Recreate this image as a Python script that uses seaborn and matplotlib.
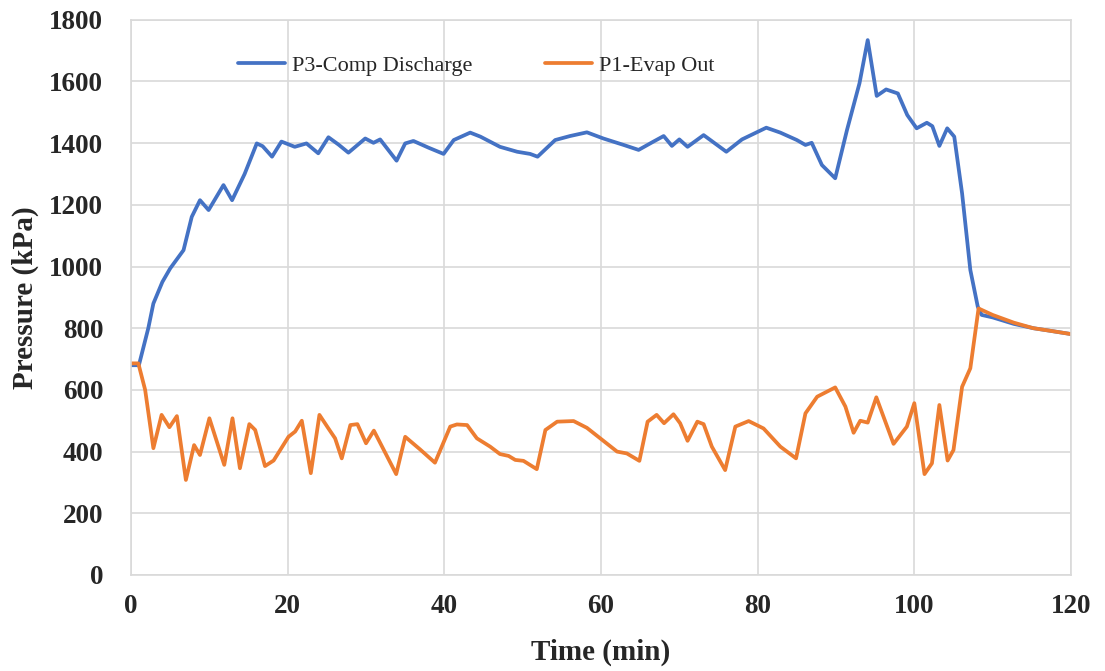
import matplotlib
matplotlib.use("Agg")
import matplotlib.pyplot as plt
import seaborn as sns
import pandas as pd

# P3 - compressor discharge pressure (kPa) vs time (min)
p3_time = [0, 1, 2.2, 2.85, 4, 5, 6.7, 7.75, 8.8, 9.9, 11.8, 12.9, 14.5, 16.05, 16.8,
           18, 19.2, 20.9, 22.4, 23.9, 25.2, 26.5, 27.75, 29.9, 30.95, 31.8, 33.9, 35,
           36.05, 38, 39.9, 41.2, 43.3, 44.6, 47.1, 49.3, 50.95, 51.9, 54.15, 56.05,
           58.2, 60.3, 62.9, 64.8, 66.7, 68, 69.05, 70, 71.05, 73.1, 76, 78, 81.1, 82.9,
           85, 86.1, 86.9, 88.2, 89.9, 91.4, 93, 94.05, 95.2, 96.4, 97.9, 99.1, 100.3,
           101.6, 102.3, 103.2, 104.2, 105.1, 106.1, 107.15, 108.1, 108.6, 110, 112.7,
           115.2, 117, 120]
p3_pressure = [680, 680, 800, 880, 950, 994, 1053, 1161, 1215, 1183, 1264, 1215, 1300, 1399,
               1390, 1356, 1405, 1388, 1399, 1367, 1419, 1395, 1369, 1415, 1401, 1412, 1343,
               1399, 1407, 1385, 1365, 1410, 1434, 1421, 1388, 1372, 1365, 1356, 1410, 1423,
               1435, 1415, 1394, 1378, 1405, 1423, 1391, 1412, 1388, 1426, 1372, 1412, 1450,
               1434, 1410, 1394, 1401, 1329, 1286, 1442, 1594, 1734, 1553, 1574, 1561, 1491,
               1448, 1466, 1455, 1391, 1448, 1421, 1237, 989, 870, 843, 835, 814, 800, 793, 781]

# P1 - evaporator outlet pressure (kPa) vs time (min)
p1_time = [0, 0.93, 1.8, 2.85, 3.9, 4.9, 5.85, 7.0, 8.05, 8.8, 10, 11.9, 12.95, 13.9, 15.1,
           15.85, 17.1, 18.2, 20.1, 20.95, 21.8, 22.95, 24.05, 25.2, 26.05, 26.9, 28, 28.9,
           30, 31, 33.85, 35, 36.9, 38.8, 40.75, 41.6, 42.9, 44.15, 45.85, 47.1, 48.2,
           49.05, 50.1, 51.8, 52.9, 54.4, 56.5, 58.2, 59.9, 62.05, 63.3, 64.9, 65.95, 67.1,
           68.05, 69.25, 70.1, 71.05, 72.3, 73.1, 74.15, 75.85, 77.15, 78.85, 80.75, 82.9,
           84.9, 86.1, 87.6, 89.9, 91.2, 92.25, 93.1, 94.05, 95.15, 97.35, 99.05, 100,
           101.3, 102.25, 103.2, 104.25, 105, 106.1, 107.15, 108.2, 110, 112.7, 115.2, 117, 120]
p1_pressure = [686, 686, 600, 411, 519, 479, 515, 308, 421, 389, 508, 357, 508, 346, 489, 470,
               353, 371, 448, 465, 500, 330, 519, 475, 443, 378, 486, 489, 427, 468, 327, 448,
               407, 364, 481, 488, 486, 443, 416, 392, 386, 373, 370, 343, 470, 497, 499, 477,
               443, 400, 394, 370, 497, 519, 492, 521, 492, 435, 497, 489, 416, 340, 481, 499,
               475, 416, 378, 524, 578, 608, 546, 461, 500, 494, 576, 425, 481, 557, 327, 362,
               551, 371, 405, 610, 670, 864, 843, 818, 800, 793, 781]

x_ticks = [0, 20, 40, 60, 80, 100, 120]
y_ticks = [0, 200, 400, 600, 800, 1000, 1200, 1400, 1600, 1800]

df = pd.concat([
    pd.DataFrame({"time": p3_time, "pressure": p3_pressure, "series": "P3-Comp Discharge"}),
    pd.DataFrame({"time": p1_time, "pressure": p1_pressure, "series": "P1-Evap Out"}),
])

sns.set_theme(style="white")
plt.rcParams["font.family"] = ["Liberation Serif", "DejaVu Serif"]

fig = plt.figure(figsize=(11.05, 6.71), dpi=100)
ax = fig.add_axes([0.1186, 0.1431, 0.8506, 0.8275])

sns.lineplot(data=df, x="time", y="pressure", hue="series", sort=False,
             palette={"P3-Comp Discharge": "#4472C4", "P1-Evap Out": "#ED7D31"},
             linewidth=2.7, solid_joinstyle="round", solid_capstyle="round", ax=ax)

ax.set_xlim(0, 120)
ax.set_ylim(0, 1800)
ax.set_xticks(x_ticks)
ax.set_yticks(y_ticks)
ax.grid(True, color="#D9D9D9", linewidth=1.2)
ax.set_axisbelow(True)
for s in ax.spines.values():
    s.set_color("#D9D9D9")
    s.set_linewidth(1.2)

ax.tick_params(axis="both", length=0, labelsize=19.5)
ax.tick_params(axis="y", pad=20)
ax.tick_params(axis="x", pad=14)
for lab in ax.get_xticklabels() + ax.get_yticklabels():
    lab.set_fontweight("bold")

ax.set_xlabel("Time (min)", fontsize=21, fontweight="bold", labelpad=14)
ax.set_ylabel("Pressure (kPa)", fontsize=21, fontweight="bold", labelpad=7)

ax.legend(loc="center left", bbox_to_anchor=(0.114, 0.918), ncol=2, frameon=False,
          fontsize=16, handlelength=2.1, handletextpad=0.3, columnspacing=3.3,
          borderpad=0, borderaxespad=0)

fig.savefig("out.png", dpi=100)
